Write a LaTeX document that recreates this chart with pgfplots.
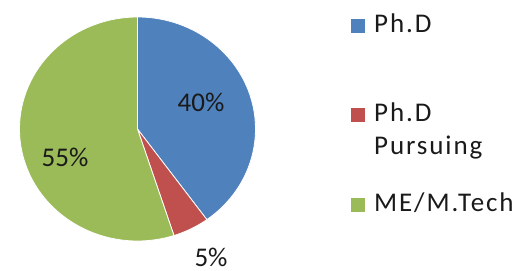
\documentclass[border=0pt]{standalone}
\usepackage{pgfplots}
\usepackage{pgfplotstable}
\pgfplotsset{compat=1.18}
\usepackage{fontspec}
\setmainfont{Carlito}
\definecolor{phdblue}{HTML}{4F81BD}
\definecolor{phdred}{HTML}{C0504D}
\definecolor{megreen}{HTML}{9BBB59}
\definecolor{lbl}{HTML}{1A1A1A}
\pgfplotstableread{
share
40
5
55
}\piedata
\begin{document}
\begin{tikzpicture}
\pgfplotstablegetelem{0}{share}\of\piedata \let\vA\pgfplotsretval
\pgfplotstablegetelem{1}{share}\of\piedata \let\vB\pgfplotsretval
\pgfplotstablegetelem{2}{share}\of\piedata \let\vC\pgfplotsretval
\pgfmathsetmacro\aA{90}
\pgfmathsetmacro\aB{90-3.6*\vA}
\pgfmathsetmacro\aC{\aB-3.6*\vB}
\pgfmathsetmacro\aD{\aC-3.6*\vC}
\begin{axis}[
  width=524bp, height=271bp, scale only axis,
  xmin=0, xmax=524, ymin=0, ymax=271,
  hide axis, clip=false,
]
\fill[phdblue, draw=white, line width=0.8bp] (axis cs:137.5,142) -- +(\aA:118bp and 112bp) arc[start angle=\aA, end angle=\aB, x radius=118bp, y radius=112bp] -- cycle;
\fill[phdred, draw=white, line width=0.8bp] (axis cs:137.5,142) -- +(\aB:118bp and 112bp) arc[start angle=\aB, end angle=\aC, x radius=118bp, y radius=112bp] -- cycle;
\fill[megreen, draw=white, line width=0.8bp] (axis cs:137.5,142) -- +(\aC:118bp and 112bp) arc[start angle=\aC, end angle=\aD, x radius=118bp, y radius=112bp] -- cycle;
% slice labels
\node[anchor=base, text=lbl, inner sep=0pt, font=\fontsize{27bp}{33bp}\selectfont] at (axis cs:201,159) {\vA\%};
\node[anchor=base, text=lbl, inner sep=0pt, font=\fontsize{27bp}{33bp}\selectfont] at (axis cs:211,5) {\vB\%};
\node[anchor=base, text=lbl, inner sep=0pt, font=\fontsize{27bp}{33bp}\selectfont] at (axis cs:65,104) {\vC\%};
% legend
\fill[phdblue] (axis cs:351,238) rectangle (axis cs:365,252);
\fill[phdred] (axis cs:351,149) rectangle (axis cs:365,163);
\fill[megreen] (axis cs:351,59) rectangle (axis cs:365,73);
\node[anchor=base west, text=lbl, inner sep=0pt, font=\fontsize{27bp}{33bp}\selectfont\addfontfeatures{LetterSpace=7}] at (axis cs:374,238) {Ph.D};
\node[anchor=base west, text=lbl, inner sep=0pt, font=\fontsize{27bp}{33bp}\selectfont\addfontfeatures{LetterSpace=7}] at (axis cs:374,149) {Ph.D};
\node[anchor=base west, text=lbl, inner sep=0pt, font=\fontsize{27bp}{33bp}\selectfont\addfontfeatures{LetterSpace=7}] at (axis cs:374,116) {Pursuing};
\node[anchor=base west, text=lbl, inner sep=0pt, font=\fontsize{27bp}{33bp}\selectfont\addfontfeatures{LetterSpace=7}] at (axis cs:374,59) {ME/M.Tech};
\end{axis}
\pgfresetboundingbox
\path[use as bounding box] (current axis.south west) rectangle (current axis.north east);
\end{tikzpicture}
\end{document}
